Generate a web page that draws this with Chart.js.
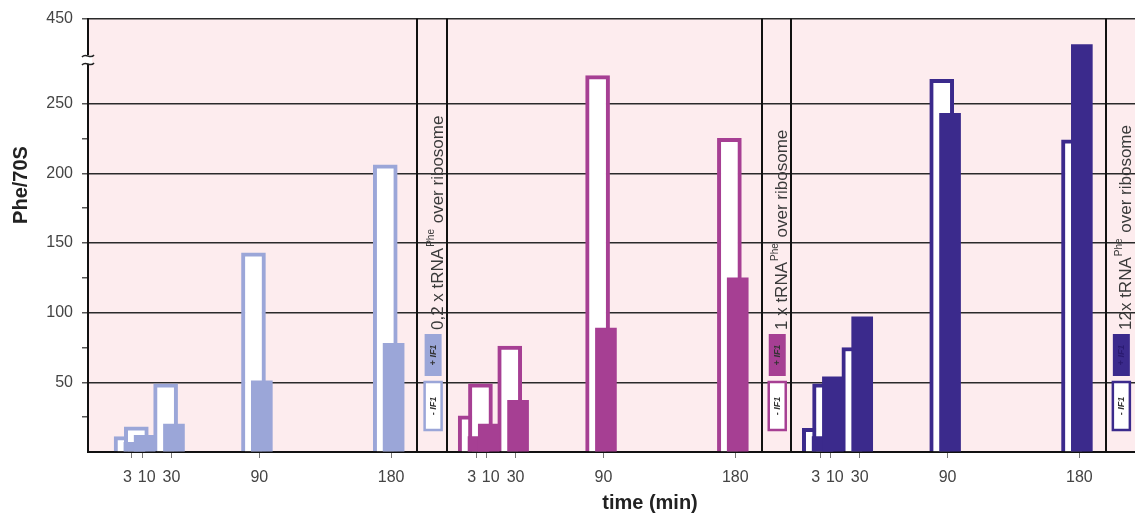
<!DOCTYPE html>
<html>
<head>
<meta charset="utf-8">
<script src="https://cdn.jsdelivr.net/npm/chart.js@4.4.1/dist/chart.umd.min.js"></script>
<style>
body { margin: 0; background: #fff; }
#wrap { width: 1135px; height: 515px; }
</style>
</head>
<body>
<div id="wrap"><canvas id="myChart"></canvas></div>
<script>
// sampling times (min), same for all three panels
const times = [3, 10, 30, 90, 180];
// tRNA ratio of each panel (text of the side legends)
const panels = ['0,2 x tRNA', '1 x tRNA', '12x tRNA'];
// Phe/70S without IF1 (open bars)
const minusIF1 = [
	[11, 18, 49, 143, 206],
	[26, 49, 76, 316, 225],
	[17, 49, 75, 307, 224]
];
// Phe/70S with IF1 (filled bars)
const plusIF1 = [
	[7, 12, 20, 51, 78],
	[11, 20, 37, 89, 125],
	[11, 54, 97, 243, 389]
];
const yTicks = [50, 100, 150, 200, 250, 450];

const colors = ['#9ba6d8', '#a63f93', '#3b2a8c'];
const pink = '#fdecee';
const panelShift = 235;   // x units between panels
const openShift = -4;     // open bar left of the tick
const fillShift = 1.7;    // filled bar right of the tick

// axis break: above 250 the scale is squeezed so 450 sits at the top
const breakAt = 250;
const squeeze = 61 / 200;
function squash(v) {
	return v <= breakAt ? v : breakAt + (v - breakAt) * squeeze;
}

Chart.defaults.font.family = "'Liberation Sans', Arial, sans-serif";

const datasets = [];
panels.forEach((p, k) => {
	datasets.push({
		data: times.map((t, i) => ({ x: k * panelShift + t + openShift, y: squash(minusIF1[k][i]) })),
		backgroundColor: '#ffffff',
		borderColor: colors[k],
		borderWidth: 4,
		borderSkipped: 'bottom',
		barThickness: 24,
		grouped: false,
		order: 2
	});
	datasets.push({
		data: times.map((t, i) => ({ x: k * panelShift + t + fillShift, y: squash(plusIF1[k][i]) })),
		backgroundColor: colors[k],
		borderWidth: 0,
		barThickness: 21,
		grouped: false,
		order: 1
	});
});

const xTickValues = [];
panels.forEach((p, k) => times.forEach(t => xTickValues.push(k * panelShift + t)));

const yTickValues = [];
for (let v = 0; v <= breakAt; v += 25) yTickValues.push(v);
yTickValues.push(squash(450));

function isMajor(v) {
	return yTicks.some(t => Math.abs(squash(t) - v) < 0.01);
}

const decor = {
	id: 'decor',
	beforeDraw(chart) {
		const { ctx, chartArea: a } = chart;
		ctx.save();
		ctx.fillStyle = pink;
		ctx.fillRect(a.left, a.top, a.right - a.left, a.bottom - a.top);
		ctx.restore();
	},
	beforeDatasetsDraw(chart) {
		const { ctx, chartArea: a, scales: { x } } = chart;
		ctx.save();
		ctx.strokeStyle = '#111';
		ctx.lineWidth = 2;
		panels.forEach((p, k) => {
			[198, 218].forEach(u => {
				const px = Math.round(x.getPixelForValue(k * panelShift + u));
				if (px >= a.right - 2) return;
				ctx.beginPath();
				ctx.moveTo(px, a.top);
				ctx.lineTo(px, a.bottom);
				ctx.stroke();
			});
		});
		ctx.restore();
	},
	afterDraw(chart) {
		const { ctx, chartArea: a, scales: { x } } = chart;
		const fam = Chart.defaults.font.family;

		// side legends, written bottom to top
		panels.forEach((p, k) => {
			const x0 = x.getPixelForValue(k * panelShift + 198);
			const x1 = Math.min(a.right, x.getPixelForValue(k * panelShift + 218));
			const cx = (x0 + x1) / 2 + 1;
			ctx.save();
			ctx.translate(cx, 430);
			ctx.rotate(-Math.PI / 2);
			// - IF1 box
			ctx.fillStyle = '#fff';
			ctx.fillRect(0, -8.5, 48, 17);
			ctx.strokeStyle = colors[k];
			ctx.lineWidth = 2.5;
			ctx.strokeRect(0, -8.5, 48, 17);
			ctx.font = 'italic bold 9px ' + fam;
			ctx.textAlign = 'center';
			ctx.textBaseline = 'middle';
			ctx.fillStyle = '#333';
			ctx.fillText('- IF1', 24, 0);
			// + IF1 box
			ctx.fillStyle = colors[k];
			ctx.fillRect(54, -8.5, 42, 17);
			ctx.fillStyle = k === 2 ? '#2a1a70' : '#333';
			ctx.fillText('+ IF1', 75, 0);
			// ratio text with superscript
			ctx.textAlign = 'left';
			ctx.textBaseline = 'alphabetic';
			ctx.fillStyle = '#3a3a3a';
			let u = 100;
			ctx.font = '17px ' + fam;
			ctx.fillText(p, u, 10);
			u += ctx.measureText(p).width + 1;
			ctx.font = '10px ' + fam;
			ctx.fillText('Phe', u, 1);
			u += ctx.measureText('Phe').width + 1;
			ctx.font = '17px ' + fam;
			ctx.fillText(' over ribosome', u, 10);
			ctx.restore();
		});

		// break mark on the y axis
		ctx.save();
		ctx.fillStyle = '#fff';
		ctx.fillRect(84, 55, 8, 9);
		ctx.strokeStyle = '#222';
		ctx.lineWidth = 1.5;
		[55, 63].forEach(yy => {
			ctx.beginPath();
			ctx.moveTo(82, yy + 2);
			ctx.bezierCurveTo(86, yy - 3, 90, yy + 5, 94, yy);
			ctx.stroke();
		});
		ctx.restore();

		// axis titles
		ctx.save();
		ctx.fillStyle = '#222';
		ctx.font = 'bold 20px ' + fam;
		ctx.textAlign = 'center';
		ctx.textBaseline = 'middle';
		ctx.fillText('time (min)', 650, 503);
		ctx.translate(21, 185);
		ctx.rotate(-Math.PI / 2);
		ctx.fillText('Phe/70S', 0, 0);
		ctx.restore();
	}
};

const ctx = document.getElementById('myChart');
const myChart = new Chart(ctx, {
	type: 'bar',
	data: { datasets },
	plugins: [decor],
	options: {
		responsive: true,
		maintainAspectRatio: false,
		animation: false,
		layout: { padding: { top: 13, right: 0, left: 0, bottom: 0 } },
		plugins: {
			legend: { display: false },
			tooltip: { enabled: false }
		},
		scales: {
			x: {
				type: 'linear',
				min: -27,
				max: 688,
				offset: false,
				z: 1,
				afterBuildTicks: s => { s.ticks = xTickValues.map(v => ({ value: v })); },
				afterFit: s => { s.height = 63; },
				grid: {
					offset: false,
					drawOnChartArea: false,
					drawTicks: true,
					tickLength: 6,
					tickColor: '#777',
					tickWidth: 1
				},
				border: { color: '#111', width: 2 },
				ticks: {
					autoSkip: false,
					maxRotation: 0,
					minRotation: 0,
					padding: 10,
					color: '#444',
					font: { size: 16 },
					callback: v => {
						const t = Math.round(v) % panelShift;
						if (t === 3) return '3  ';
						if (t === 10) return '  10';
						return String(t);
					}
				}
			},
			y: {
				type: 'linear',
				min: 0,
				max: squash(450),
				afterBuildTicks: s => { s.ticks = yTickValues.map(v => ({ value: v })); },
				afterFit: s => { s.width = 88; },
				grid: {
					color: c => (c.tick && c.tick.value > 0 && isMajor(c.tick.value)) ? '#2a2a2a' : 'rgba(0,0,0,0)',
					lineWidth: 1.5,
					tickColor: c => (c.tick && c.tick.value > 0) ? '#555' : 'rgba(0,0,0,0)',
					tickLength: 6,
					tickWidth: 1.5
				},
				border: { color: '#111', width: 2 },
				ticks: {
					autoSkip: false,
					padding: 9,
					color: '#444',
					font: { size: 16 },
					callback: v => {
						if (v <= 0 || !isMajor(v)) return '';
						const t = yTicks.find(y => Math.abs(squash(y) - v) < 0.01);
						return String(t);
					}
				}
			}
		}
	}
});
</script>
</body>
</html>
